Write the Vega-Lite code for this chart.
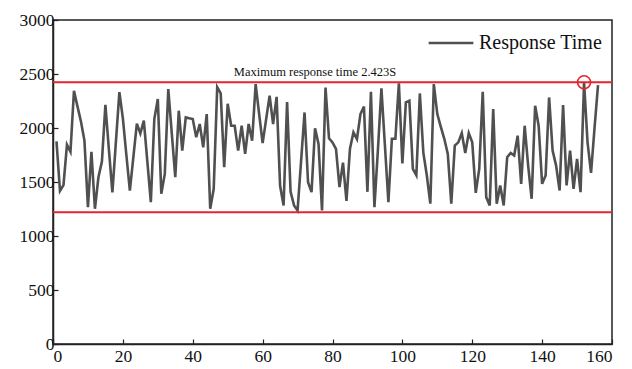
{
  "$schema": "https://vega.github.io/schema/vega-lite/v6.json",
  "width": 559,
  "height": 324,
  "autosize": {"type": "none"},
  "padding": {"left": 53, "top": 20, "right": 20, "bottom": 25},
  "background": "white",
  "config": {
    "view": {"stroke": "#222222", "strokeWidth": 1.5},
    "font": "Liberation Serif",
    "axis": {
      "grid": false,
      "title": null,
      "domainColor": "#222222",
      "domainWidth": 1.5,
      "tickColor": "#222222",
      "tickWidth": 1.2,
      "tickSize": -5,
      "labelFont": "Liberation Serif",
      "labelFontSize": 17.5,
      "labelColor": "#111111",
      "labelPadding": 8
    }
  },
  "datasets": {
    "rt": [
      {"x": 1, "y": 1876}, {"x": 2, "y": 1418}, {"x": 3, "y": 1471}, {"x": 4, "y": 1845}, {"x": 5, "y": 1780},
      {"x": 6, "y": 2344}, {"x": 7, "y": 2200}, {"x": 8, "y": 2060}, {"x": 9, "y": 1883}, {"x": 10, "y": 1267},
      {"x": 11, "y": 1780}, {"x": 12, "y": 1252}, {"x": 13, "y": 1544}, {"x": 14, "y": 1690}, {"x": 15, "y": 2214},
      {"x": 16, "y": 1800}, {"x": 17, "y": 1403}, {"x": 18, "y": 1870}, {"x": 19, "y": 2332}, {"x": 20, "y": 2090},
      {"x": 21, "y": 1750}, {"x": 22, "y": 1420}, {"x": 23, "y": 1730}, {"x": 24, "y": 2040}, {"x": 25, "y": 1950},
      {"x": 26, "y": 2068}, {"x": 27, "y": 1690}, {"x": 28, "y": 1314}, {"x": 29, "y": 2083}, {"x": 30, "y": 2268},
      {"x": 31, "y": 1391}, {"x": 32, "y": 1575}, {"x": 33, "y": 2360}, {"x": 34, "y": 1950}, {"x": 35, "y": 1544},
      {"x": 36, "y": 2160}, {"x": 37, "y": 1791}, {"x": 38, "y": 2098}, {"x": 39, "y": 2090}, {"x": 40, "y": 2083},
      {"x": 41, "y": 1914}, {"x": 42, "y": 2037}, {"x": 43, "y": 1821}, {"x": 44, "y": 2129}, {"x": 45, "y": 1252},
      {"x": 46, "y": 1437}, {"x": 47, "y": 2378}, {"x": 48, "y": 2320}, {"x": 49, "y": 1637}, {"x": 50, "y": 2225},
      {"x": 51, "y": 2021}, {"x": 52, "y": 2021}, {"x": 53, "y": 1791}, {"x": 54, "y": 2021}, {"x": 55, "y": 1760},
      {"x": 56, "y": 2037}, {"x": 57, "y": 1883}, {"x": 58, "y": 2406}, {"x": 59, "y": 2130}, {"x": 60, "y": 1860},
      {"x": 61, "y": 2080}, {"x": 62, "y": 2300}, {"x": 63, "y": 2037}, {"x": 64, "y": 2288}, {"x": 65, "y": 1465},
      {"x": 66, "y": 1283}, {"x": 67, "y": 2240}, {"x": 68, "y": 1410}, {"x": 69, "y": 1283}, {"x": 70, "y": 1237},
      {"x": 71, "y": 1690}, {"x": 72, "y": 2144}, {"x": 73, "y": 1498}, {"x": 74, "y": 1406}, {"x": 75, "y": 1997},
      {"x": 76, "y": 1852}, {"x": 77, "y": 1237}, {"x": 78, "y": 2375}, {"x": 79, "y": 1905}, {"x": 80, "y": 1867},
      {"x": 81, "y": 1806}, {"x": 82, "y": 1452}, {"x": 83, "y": 1680}, {"x": 84, "y": 1325}, {"x": 85, "y": 1808},
      {"x": 86, "y": 1960}, {"x": 87, "y": 1898}, {"x": 88, "y": 2129}, {"x": 89, "y": 2198}, {"x": 90, "y": 1409},
      {"x": 91, "y": 2336}, {"x": 92, "y": 1267}, {"x": 93, "y": 1800}, {"x": 94, "y": 2367}, {"x": 95, "y": 1840},
      {"x": 96, "y": 1314}, {"x": 97, "y": 1900}, {"x": 98, "y": 1900}, {"x": 99, "y": 2413}, {"x": 100, "y": 1671},
      {"x": 101, "y": 2237}, {"x": 102, "y": 2252}, {"x": 103, "y": 1622}, {"x": 104, "y": 1563}, {"x": 105, "y": 2320},
      {"x": 106, "y": 1772}, {"x": 107, "y": 1560}, {"x": 108, "y": 1299}, {"x": 109, "y": 2406}, {"x": 110, "y": 2129},
      {"x": 111, "y": 2010}, {"x": 112, "y": 1900}, {"x": 113, "y": 1760}, {"x": 114, "y": 1299}, {"x": 115, "y": 1837},
      {"x": 116, "y": 1867}, {"x": 117, "y": 1953}, {"x": 118, "y": 1769}, {"x": 119, "y": 1953}, {"x": 120, "y": 1867},
      {"x": 121, "y": 1400}, {"x": 122, "y": 1622}, {"x": 123, "y": 2335}, {"x": 124, "y": 1360}, {"x": 125, "y": 1283},
      {"x": 126, "y": 2175}, {"x": 127, "y": 1299}, {"x": 128, "y": 1468}, {"x": 129, "y": 1283}, {"x": 130, "y": 1729},
      {"x": 131, "y": 1769}, {"x": 132, "y": 1745}, {"x": 133, "y": 1929}, {"x": 134, "y": 1483}, {"x": 135, "y": 2021},
      {"x": 136, "y": 1652}, {"x": 137, "y": 1345}, {"x": 138, "y": 2206}, {"x": 139, "y": 2021}, {"x": 140, "y": 1483},
      {"x": 141, "y": 1560}, {"x": 142, "y": 2283}, {"x": 143, "y": 1791}, {"x": 144, "y": 1652}, {"x": 145, "y": 1421},
      {"x": 146, "y": 2212}, {"x": 147, "y": 1468}, {"x": 148, "y": 1791}, {"x": 149, "y": 1437}, {"x": 150, "y": 1714},
      {"x": 151, "y": 1406}, {"x": 152, "y": 2423}, {"x": 153, "y": 1867}, {"x": 154, "y": 1585}, {"x": 155, "y": 2000},
      {"x": 156, "y": 2397}
    ],
    "limits": [{"y": 2423}, {"y": 1220}],
    "note": [{"x": 75, "y": 2520, "label": "Maximum response time 2.423S"}],
    "peak": [{"x": 152, "y": 2423}]
  },
  "layer": [
    {
      "data": {"name": "rt"},
      "mark": {"type": "line", "strokeWidth": 2.6},
      "encoding": {
        "x": {
          "field": "x", "type": "quantitative",
          "scale": {"domain": [0, 160], "nice": false},
          "axis": {"values": [0, 20, 40, 60, 80, 100, 120, 140, 160]}
        },
        "y": {
          "field": "y", "type": "quantitative",
          "scale": {"domain": [0, 3000], "nice": false},
          "axis": {
            "values": [0, 250, 500, 750, 1000, 1250, 1500, 1750, 2000, 2250, 2500, 2750, 3000],
            "labelExpr": "datum.value % 500 == 0 ? datum.label : ''",
            "format": "d",
            "labelPadding": 4
          }
        },
        "color": {
          "datum": "Response Time",
          "scale": {"range": ["#505050"]},
          "legend": {
            "orient": "none",
            "legendX": 374,
            "legendY": -1,
            "title": null,
            "symbolType": "stroke",
            "symbolSize": 2000,
            "symbolStrokeWidth": 2.6,
            "labelFont": "Liberation Serif",
            "labelFontSize": 20,
            "labelColor": "#111111",
            "labelOffset": 4
          }
        }
      }
    },
    {
      "data": {"name": "limits"},
      "mark": {"type": "rule", "color": "#e3262d", "strokeWidth": 2},
      "encoding": {"y": {"field": "y", "type": "quantitative"}}
    },
    {
      "data": {"name": "note"},
      "mark": {"type": "text", "font": "Liberation Serif", "fontSize": 12.5, "color": "#111111", "baseline": "middle", "align": "center"},
      "encoding": {
        "x": {"field": "x", "type": "quantitative"},
        "y": {"field": "y", "type": "quantitative"},
        "text": {"field": "label"}
      }
    },
    {
      "data": {"name": "peak"},
      "mark": {"type": "point", "shape": "circle", "filled": false, "size": 170, "stroke": "#e3262d", "strokeWidth": 1.6, "opacity": 1},
      "encoding": {
        "x": {"field": "x", "type": "quantitative"},
        "y": {"field": "y", "type": "quantitative"}
      }
    }
  ]
}
